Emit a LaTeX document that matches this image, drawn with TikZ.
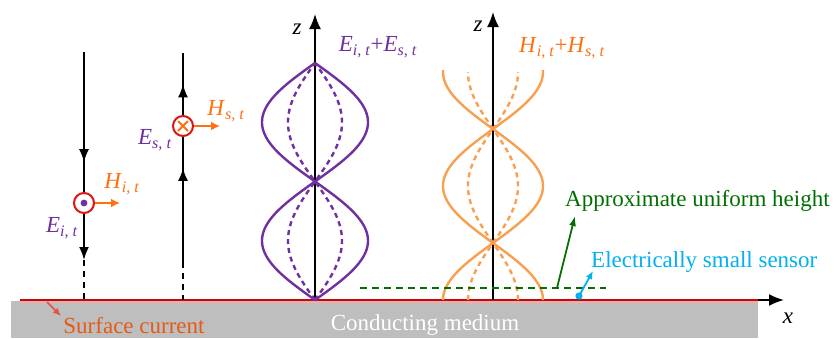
\documentclass[tikz,border=0pt]{standalone}
\usepackage{fontspec}
\setmainfont{Liberation Serif}
\usetikzlibrary{arrows.meta,positioning,calc,decorations.markings}
\tikzset{>=Latex}

\definecolor{fieldE}{RGB}{112,48,160}
\definecolor{fieldH}{RGB}{255,112,16}
\definecolor{waveH}{RGB}{248,160,80}
\definecolor{ringred}{RGB}{220,20,20}
\definecolor{heightgreen}{RGB}{0,110,0}
\definecolor{sensorblue}{RGB}{0,176,240}
\definecolor{currentred}{RGB}{225,85,70}
\definecolor{currenttext}{RGB}{230,90,20}
\definecolor{medium}{RGB}{190,190,190}

\newcommand{\fld}[2]{\textit{#1}\textsubscript{\textit{#2}}}

\begin{document}
\begin{tikzpicture}[
    x=1pt, y=-1pt,
    lbl/.style={font=\fontsize{23}{25}\selectfont, inner sep=0pt},
    axisline/.style={line width=1.8pt, -{Latex[length=15pt,width=12pt]}},
    ray/.style={line width=1.8pt},
    raydash/.style={line width=1.8pt, dash pattern=on 6pt off 5pt},
    ring/.style={circle, draw=ringred, line width=2pt, fill=white, minimum size=20pt, inner sep=0pt},
    harrow/.style={line width=2.2pt, fieldH, -{Latex[length=9pt,width=9pt]}},
    wave/.style={line width=2.4pt},
    wavedash/.style={line width=2.4pt, dash pattern=on 5pt off 4pt}
]
    \useasboundingbox (0,0) rectangle (836,338);

    % ground
    \fill[medium] (11,301) rectangle (758,338);
    \coordinate (x0) at (20,300);
    \coordinate (x1) at (784,300);
    \draw[axisline] (x0) -- (x1);
    \draw[line width=2.2pt, red!85!black] (20,300) -- (758,300);
    \draw[line width=1.8pt, red!35] (20,302.5) -- (758,302.5);
    \node[lbl] (xl) at (788,318) {\textit{x}};
    \node[lbl, text=white] (med) at (425,325) {Conducting medium};

    % incident wave
    \coordinate (i0) at (84,52);
    \coordinate (i1) at (84,260);
    \coordinate (i2) at (84,300);
    \draw[ray, -{Latex[length=13pt,width=10pt]},
        postaction={decorate, decoration={markings,
            mark=at position 0.53 with {\arrow{Latex[length=13pt,width=10pt]}}}}] (i0) -- (i1);
    \draw[raydash] (i1) -- (i2);
    \node[ring] (iring) at (84,203) {};
    \fill[fieldE] (iring.center) circle (3.4pt);
    \coordinate (ih) at (120,203);
    \draw[harrow] (iring.east) -- (ih);
    \node[lbl, text=fieldH] (hit) at (122,184) {\fld{H}{i, t}};
    \node[lbl, text=fieldE] (eit) at (62,228) {\fld{E}{i, t}};

    % scattered wave
    \coordinate (s0) at (183,262);
    \coordinate (s1) at (183,53);
    \coordinate (s2) at (183,300);
    \draw[ray,
        postaction={decorate, decoration={markings,
            mark=at position 0.45 with {\arrow{Latex[length=13pt,width=10pt]}},
            mark=at position 0.85 with {\arrow{Latex[length=13pt,width=10pt]}}}}] (s0) -- (s1);
    \draw[raydash] (s0) -- (s2);
    \node[ring] (sring) at (183,126) {};
    \draw[fieldH, line width=2pt] ($(sring.center)+(-5,-5)$) -- ($(sring.center)+(5,5)$)
        ($(sring.center)+(-5,5)$) -- ($(sring.center)+(5,-5)$);
    \coordinate (sh) at (220,126);
    \draw[harrow] (sring.east) -- (sh);
    \node[lbl, text=fieldH] (hst) at (226,111) {\fld{H}{s, t}};
    \node[lbl, text=fieldE] (est) at (155,140) {\fld{E}{s, t}};

    % total electric field
    \coordinate (ez0) at (315,300);
    \coordinate (ez1) at (315,14);
    \draw[axisline] (ez0) -- (ez1);
    \node[lbl] (zE) at (297,29) {\textit{z}};
    \draw[wave, fieldE] plot[domain=0:237, samples=150] ({315+53*abs(sin(\x/118.5*180))}, {300-\x});
    \draw[wave, fieldE] plot[domain=0:237, samples=150] ({315-53*abs(sin(\x/118.5*180))}, {300-\x});
    \draw[wavedash, fieldE] plot[domain=0:237, samples=150] ({315+27*abs(sin(\x/118.5*180))}, {300-\x});
    \draw[wavedash, fieldE] plot[domain=0:237, samples=150] ({315-27*abs(sin(\x/118.5*180))}, {300-\x});
    \node[lbl, text=fieldE] (esum) at (378,47) {\fld{E}{i, t}+\fld{E}{s, t}};

    % total magnetic field
    \coordinate (hz0) at (493,300);
    \coordinate (hz1) at (493,12);
    \draw[axisline] (hz0) -- (hz1);
    \node[lbl] (zH) at (478,26) {\textit{z}};
    \draw[wave, waveH] plot[domain=0:230, samples=150] ({493+50*abs(cos(\x/114*180))}, {300-\x});
    \draw[wave, waveH] plot[domain=0:230, samples=150] ({493-50*abs(cos(\x/114*180))}, {300-\x});
    \draw[wavedash, waveH] plot[domain=0:228, samples=150] ({493+25*abs(cos(\x/114*180))}, {300-\x});
    \draw[wavedash, waveH] plot[domain=0:228, samples=150] ({493-25*abs(cos(\x/114*180))}, {300-\x});
    \node[lbl, text=fieldH] (hsum) at (562,48) {\fld{H}{i, t}+\fld{H}{s, t}};

    % height and sensor
    \coordinate (g0) at (360,288);
    \coordinate (g1) at (606,288);
    \draw[heightgreen, line width=1.8pt, dash pattern=on 7pt off 5pt] (g0) -- (g1);
    \coordinate (gfoot) at (557,288);
    \node[lbl, text=heightgreen, anchor=west] (height) at (565,201) {Approximate uniform height};
    \draw[heightgreen, line width=1.8pt, -{Latex[length=10pt,width=7pt]}] (gfoot) -- (575,216);
    \coordinate (sens) at (579,296);
    \fill[sensorblue] (sens) circle (3.6pt);
    \node[lbl, text=sensorblue, anchor=west] (sensor) at (591,262) {Electrically small sensor};
    \draw[sensorblue, line width=1.8pt, -{Latex[length=8pt,width=7pt]}] (sens) -- (593,271);

    % surface current
    \coordinate (c0) at (47,302);
    \coordinate (c1) at (61,316);
    \draw[currentred, line width=1.6pt, -{Latex[length=8pt,width=7pt]}] (c0) -- (c1);
    \node[lbl, text=currenttext] (surf) at (134,326) {Surface current};
\end{tikzpicture}
\end{document}
